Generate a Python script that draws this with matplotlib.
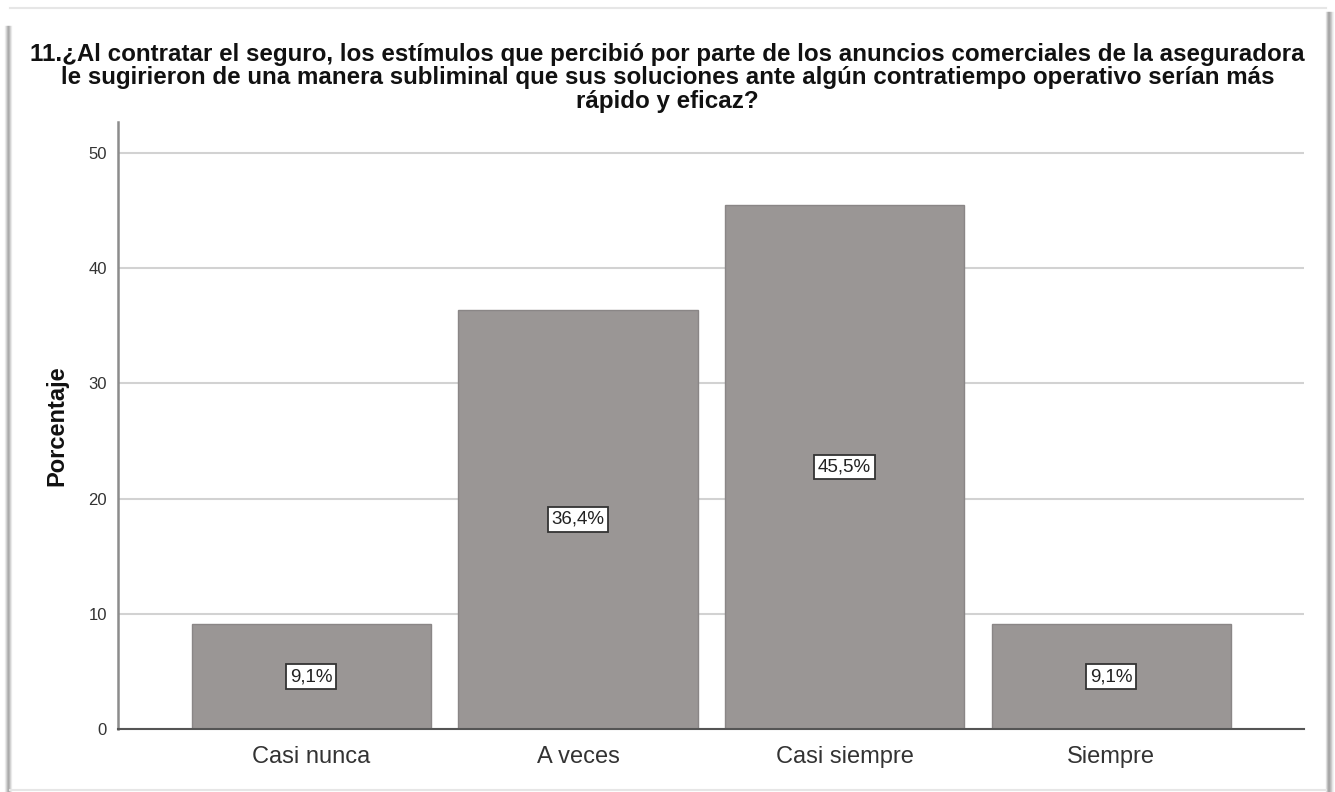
import matplotlib
matplotlib.use("Agg")
import matplotlib.pyplot as plt
from matplotlib.lines import Line2D

categories = ["Casi nunca", "A veces", "Casi siempre", "Siempre"]
percentages = [9.1, 36.4, 45.5, 9.1]
yticks = [0, 10, 20, 30, 40, 50]
title = ("11.¿Al contratar el seguro, los estímulos que percibió por parte de los anuncios comerciales de la aseguradora\n"
         "le sugirieron de una manera subliminal que sus soluciones ante algún contratiempo operativo serían más\n"
         "rápido y eficaz?")
ylabel = "Porcentaje"

plt.rcParams['font.family'] = ['Liberation Sans', 'DejaVu Sans']

W, H = 1335, 792
fig = plt.figure(figsize=(W / 100, H / 100), dpi=100)
fig.patch.set_facecolor("white")


def fx(px):
    return px / W


def fy(py):
    return 1 - py / H


# frame with soft shadow on the left and right edges
shadow_left = [(5, 0.10), (6, 0.2), (7, 0.35), (8, 0.45), (9, 0.35), (10, 0.2), (11, 0.1)]
for xp, a in shadow_left:
    fig.add_artist(Line2D([fx(xp), fx(xp)], [fy(26), fy(792)], color="black", alpha=a * 0.6, lw=1,
                          transform=fig.transFigure))
shadow_right = [(1326, 0.15), (1327, 0.3), (1328, 0.45), (1329, 0.45), (1330, 0.35), (1331, 0.25),
                (1332, 0.12), (1333, 0.06)]
for xp, a in shadow_right:
    fig.add_artist(Line2D([fx(xp), fx(xp)], [fy(12), fy(792)], color="black", alpha=a * 0.6, lw=1,
                          transform=fig.transFigure))
fig.add_artist(Line2D([fx(10), fx(1326)], [fy(8), fy(8)], color="#e6e6e6", lw=1.5,
                      transform=fig.transFigure))
fig.add_artist(Line2D([fx(10), fx(1326)], [fy(790), fy(790)], color="#e6e6e6", lw=1.5,
                      transform=fig.transFigure))

# axes placement
ax_left, ax_right = 118, 1304
ax_top, ax_bottom = 122, 729
ax = fig.add_axes([fx(ax_left), fy(ax_bottom), (ax_right - ax_left) / W, (ax_bottom - ax_top) / H])

x = list(range(len(categories)))
ax.bar(x, percentages, width=0.897, color="#9a9695", edgecolor="#8a8686", linewidth=1.0, zorder=3)

ax.set_xlim(-0.726, 3.724)
ax.set_ylim(0, 52.7)
ax.set_yticks(yticks)
ax.set_yticklabels([str(t) for t in yticks], fontsize=12, color="#333333")
ax.set_xticks(x)
ax.set_xticklabels(categories, fontsize=17, color="#333333")
ax.tick_params(axis="y", length=0, pad=8)
ax.tick_params(axis="x", length=0, pad=12)

ax.yaxis.grid(True, color="#d2d2d2", lw=1.5, zorder=0)
ax.set_axisbelow(True)
for s in ["top", "right"]:
    ax.spines[s].set_visible(False)
ax.spines["left"].set_color("#8c8c8c")
ax.spines["left"].set_linewidth(1.8)
ax.spines["bottom"].set_color("#555555")
ax.spines["bottom"].set_linewidth(1.5)
ax.spines["bottom"].set_zorder(4)

for xi, v in zip(x, percentages):
    ax.text(xi, v / 2, f"{v:.1f}%".replace(".", ","), ha="center", va="center", fontsize=13.5,
            color="#222222", zorder=5,
            bbox=dict(boxstyle="square,pad=0.2", facecolor="white", edgecolor="#333333", linewidth=1.3))

ax.set_ylabel(ylabel, fontsize=17, fontweight="bold", color="#111111", labelpad=14)

fig.text(0.5, fy(43), title, ha="center", va="top", fontsize=17.4, fontweight="bold",
         color="#111111", linespacing=1.02)

fig.savefig("out.png", dpi=100, facecolor="white")
